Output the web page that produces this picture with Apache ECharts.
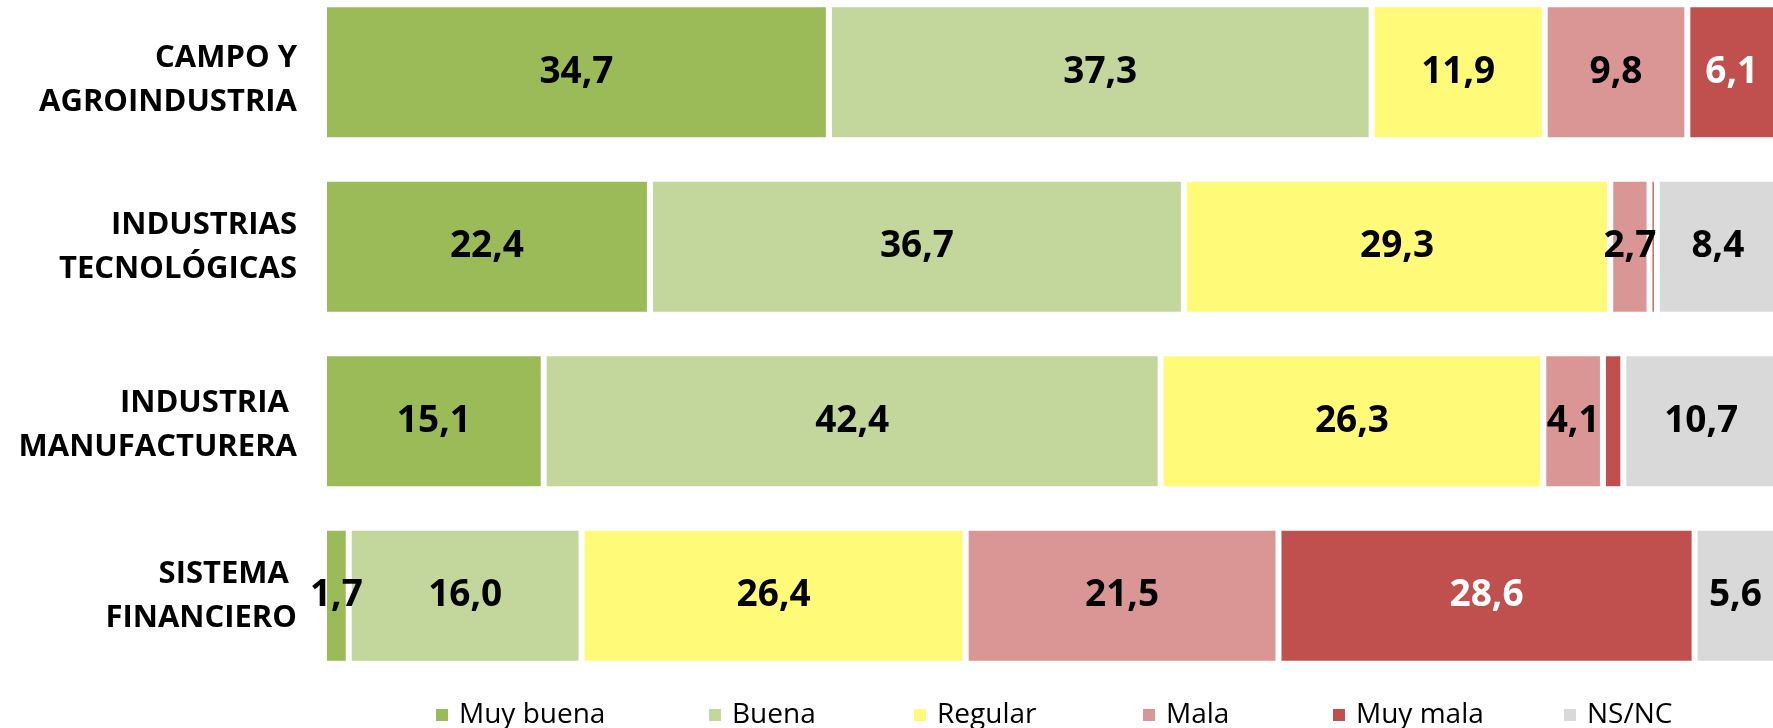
<!DOCTYPE html>
<html>
<head>
<meta charset="utf-8">
<script src="https://cdn.jsdelivr.net/npm/echarts@6/dist/echarts.min.js"></script>
<style>
  html, body { margin: 0; padding: 0; background: #fff; overflow: hidden; }
  body { width: 1773px; height: 728px; position: relative; }
  /* el gráfico sobresale arriba y a la derecha, como en el original */
  #chart { position: absolute; left: 0; top: -15px; width: 1790px; height: 743px; }
</style>
</head>
<body>
<div id="chart"></div>
<script>
// datos
const categories = ['CAMPO Y\nAGROINDUSTRIA', 'INDUSTRIAS\nTECNOLÓGICAS', 'INDUSTRIA \nMANUFACTURERA', 'SISTEMA \nFINANCIERO'];
const seriesNames = ['Muy buena', 'Buena', 'Regular', 'Mala', 'Muy mala', 'NS/NC'];
const muyBuena = [34.7, 22.4, 15.1, 1.7];
const buena = [37.3, 36.7, 42.4, 16.0];
const regular = [11.9, 29.3, 26.3, 26.4];
const mala = [9.8, 2.7, 4.1, 21.5];
const muyMala = [6.1, 0.5, 1.4, 28.6];
const nsnc = [0.2, 8.4, 10.7, 5.6];

const colors = ['#9BBB59', '#C3D69B', '#FFFA78', '#DA9694', '#C0504D', '#D9D9D9'];
const labelColors = ['#000', '#000', '#000', '#000', '#fff', '#000'];
const legendLeft = [434, 707, 912, 1141, 1331, 1562];
const spacer = ['s16', '', 's8', '']; // línea vacía arriba para bajar algunas etiquetas

const chart = echarts.init(document.getElementById('chart'));

const values = [muyBuena, buena, regular, mala, muyMala, nsnc];
const series = values.map((arr, i) => ({
  name: seriesNames[i],
  type: 'bar',
  stack: 'total',
  barCategoryGap: '22%',
  data: arr,
  itemStyle: { color: colors[i], borderColor: '#fff', borderWidth: 3 },
  label: {
    show: true,
    position: 'inside',
    color: labelColors[i],
    fontFamily: 'Open Sans',
    fontWeight: 'bold',
    fontSize: 37,
    // valores pequeños sin etiqueta
    formatter: p => p.value >= 1.5 ? p.value.toFixed(1).replace('.', ',') : ''
  },
  emphasis: { disabled: true }
}));

// una leyenda por elemento para fijar la posición de cada uno
const legends = seriesNames.map((name, i) => ({
  data: [name],
  left: legendLeft[i],
  top: 715,
  padding: 0,
  icon: 'rect',
  itemWidth: 14,
  itemHeight: 14,
  textStyle: {
    fontFamily: 'Open Sans',
    fontSize: 28,
    lineHeight: 30,
    color: '#000',
    padding: [0, 0, 0, 5]
  }
}));

chart.setOption({
  animation: false,
  grid: { left: 324, top: 0, width: 1455, height: 698 },
  legend: legends,
  xAxis: {
    type: 'value',
    min: 0,
    max: 100,
    show: false
  },
  yAxis: {
    type: 'category',
    data: categories,
    inverse: true,
    axisLine: { show: false },
    axisTick: { show: false },
    axisLabel: {
      margin: 27,
      color: '#000',
      fontFamily: 'Open Sans',
      fontWeight: 'bold',
      fontSize: 31,
      lineHeight: 44,
      align: 'right',
      formatter: (v, i) => (spacer[i] ? '{' + spacer[i] + '| }\n' : '') + v,
      rich: {
        s16: { fontSize: 1, lineHeight: 16 },
        s8: { fontSize: 1, lineHeight: 8 }
      }
    }
  },
  series: series
});
</script>
</body>
</html>
